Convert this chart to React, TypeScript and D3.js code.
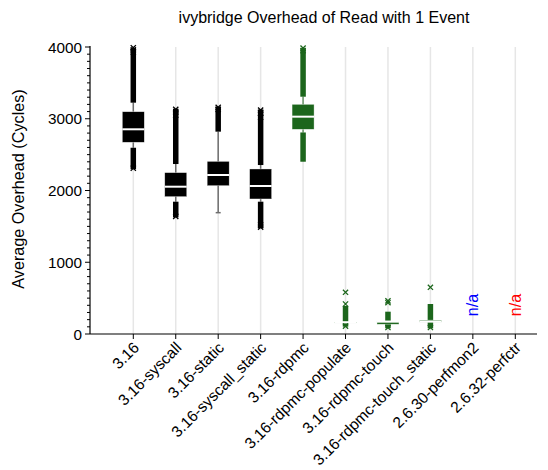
import React from "react";
import * as d3 from "d3";

const categories = [
  "3.16",
  "3.16-syscall",
  "3.16-static",
  "3.16-syscall_static",
  "3.16-rdpmc",
  "3.16-rdpmc-populate",
  "3.16-rdpmc-touch",
  "3.16-rdpmc-touch_static",
  "2.6.30-perfmon2",
  "2.6.32-perfctr",
];
const q1 = [2672, 1914, 2067, 1882, 2853, 160, 136, 166, null, null];
const median = [2853, 2053, 2216, 2063, 3029, 164, 172, 174, null, null];
const q3 = [3098, 2249, 2406, 2300, 3201, 167, 181, 193, null, null];
const whiskerLow = [2596, 1844, 1691, 1844, 2809, 150, 130, 160, null, null];
const whiskerHigh = [3224, 2369, 2820, 2355, 3307, 175, 190, 200, null, null];
const upperBand = [[3224, 3985], [2369, 3140], [2820, 3168], [2355, 3130], [3307, 3982], [102, 390], [79, 311], [79, 418], null, null];
const lowerBand = [[2296, 2596], [1626, 1844], null, [1473, 1844], [2401, 2809], null, null, null, null, null];
const outliers = [
  [3990, 3960, 3930, 2310],
  [3130, 3090, 3050, 1640],
  [3160, 3130],
  [3120, 3080, 3020, 1520, 1490],
  [3985, 3950],
  [581, 418, 110],
  [462, 436, 90],
  [651, 90],
  [],
  [],
];
const seriesGroup = ["black", "black", "black", "black", "green", "green", "green", "green", "na", "na"];
const naColor = [null, null, null, null, null, null, null, null, "#0000ff", "#ff0000"];
const yTicks = [0, 1000, 2000, 3000, 4000];
const title = "ivybridge Overhead of Read with 1 Event";
const yLabel = "Average Overhead (Cycles)";

const COLORS: Record<string, { fill: string; whisker: string }> = {
  black: { fill: "#000000", whisker: "#6e6e6e" },
  green: { fill: "#1c661c", whisker: "#6a966a" },
};

const FONT = "'Liberation Sans', Arial, Helvetica, sans-serif";

export default function App() {
  const W = 548, H = 470;
  const left = 90, right = 537, top = 47, bottom = 334;
  const y = d3.scaleLinear().domain([0, 4000]).range([bottom, top]);
  const x = d3.scalePoint<string>().domain(categories).range([133.3, 515.3]);
  const minor = d3.range(0, 4001, 100);
  const boxW = 22, bandW = 5.5, xs = 2.6;

  return (
    <svg width={W} height={H} style={{ position: "absolute", left: 0, top: 0 }} fontFamily={FONT}>
      <rect width={W} height={H} fill="#fff" />
      <text x={324} y={23} textAnchor="middle" fontSize={16} fill="#000">{title}</text>
      {/* grid */}
      {categories.map((c) => (
        <line key={"g" + c} x1={x(c)} x2={x(c)} y1={top} y2={bottom} stroke="#e6e6e6" strokeWidth={1.5} />
      ))}
      {/* boxes */}
      {categories.map((c, i) => {
        const g = seriesGroup[i];
        const cx = x(c)!;
        if (g === "na") {
          return (
            <text key={"na" + c} transform={`translate(${cx + 5.5},${305}) rotate(-90)`} textAnchor="middle" fontSize={16} fill={naColor[i]!}>n/a</text>
          );
        }
        const col = COLORS[g];
        const ub = upperBand[i];
        const lb = lowerBand[i];
        return (
          <g key={"b" + c}>
            <line x1={cx} x2={cx} y1={y(whiskerLow[i]!)} y2={y(whiskerHigh[i]!)} stroke={col.whisker} strokeWidth={1.5} />
            {ub && <rect x={cx - bandW / 2} width={bandW} y={y(ub[1])} height={y(ub[0]) - y(ub[1])} fill={col.fill} />}
            {lb && <rect x={cx - bandW / 2} width={bandW} y={y(lb[1])} height={y(lb[0]) - y(lb[1])} fill={col.fill} />}
            <rect x={cx - boxW / 2} width={boxW} y={y(q3[i]!)} height={Math.max(1, y(q1[i]!) - y(q3[i]!))} fill={col.fill} stroke="#ffffff" strokeOpacity={0.6} strokeWidth={0.6} />
            <line x1={cx - boxW / 2} x2={cx + boxW / 2} y1={y(median[i]!)} y2={y(median[i]!)} stroke="#ffffff" strokeWidth={2} />
            {outliers[i].map((v, k) => (
              <path key={k} d={`M${cx - xs},${y(v) - xs}L${cx + xs},${y(v) + xs}M${cx - xs},${y(v) + xs}L${cx + xs},${y(v) - xs}`} stroke={col.fill} strokeWidth={1.3} fill="none" />
            ))}
          </g>
        );
      })}
      {/* static whisker end dash */}
      <line x1={x(categories[2])! - 2.5} x2={x(categories[2])! + 2.5} y1={y(whiskerLow[2]!)} y2={y(whiskerLow[2]!)} stroke="#6e6e6e" strokeWidth={1.5} />
      {/* y axis */}
      <line x1={left} x2={left} y1={top - 1} y2={bottom} stroke="#000" strokeWidth={1.2} />
      {minor.map((v) => (
        <line key={"m" + v} x1={left - (v % 1000 === 0 ? 5 : 3)} x2={left} y1={y(v)} y2={y(v)} stroke="#000" strokeWidth={1} />
      ))}
      {yTicks.map((v) => (
        <text key={"yt" + v} x={left - 8} y={y(v)} dy="0.36em" textAnchor="end" fontSize={15.3} fill="#000">{v}</text>
      ))}
      <text transform={`translate(${24},${189}) rotate(-90)`} textAnchor="middle" fontSize={16.2} fill="#000">{yLabel}</text>
      {/* x axis */}
      <line x1={left} x2={right} y1={bottom} y2={bottom} stroke="#000" strokeWidth={1.2} />
      {categories.map((c) => (
        <line key={"xt" + c} x1={x(c)} x2={x(c)} y1={bottom} y2={bottom + 5} stroke="#000" strokeWidth={1} />
      ))}
      {categories.map((c) => (
        <text key={"xl" + c} transform={`translate(${x(c)! - 1},${bottom + 7}) rotate(-45)`} textAnchor="end" dy="0.7em" fontSize={15.5} fill="#000">{c}</text>
      ))}
    </svg>
  );
}
